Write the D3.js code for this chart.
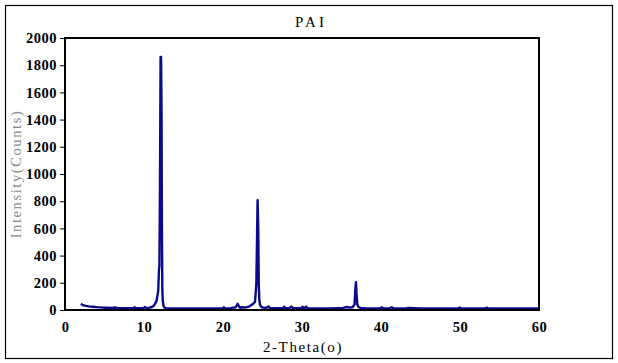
<!DOCTYPE html>
<html>
<head>
<meta charset="utf-8">
<script src="https://cdn.jsdelivr.net/npm/d3@7"></script>
<style>
body { margin: 0; background: #fff; }
svg { display: block; }
</style>
</head>
<body>
<svg id="chart" width="618" height="363"></svg>
<script>
const title = "PAI";
const xLabel = "2-Theta(o)";
const yLabel = "Intensity(Counts)";
const xTicks = [0, 10, 20, 30, 40, 50, 60];
const yTicks = [0, 200, 400, 600, 800, 1000, 1200, 1400, 1600, 1800, 2000];

// 2-theta (degrees)
const twoTheta = [
  2.0, 2.2, 2.5, 3.0, 3.5, 4.0, 4.5, 5.0, 5.5, 6.0, 6.3, 6.6, 7.0, 7.5, 8.0, 8.7, 8.8, 9.0, 9.5, 10.0, 10.1, 10.3,
  10.6, 11.0, 11.2, 11.4, 11.6, 11.8, 11.9, 11.95, 12.02, 12.1, 12.16, 12.22, 12.27, 12.32, 12.37, 12.45, 12.55, 12.75, 13.0,
  14.0, 15.0, 16.0, 17.0, 18.0, 19.0, 20.0, 20.1, 20.3, 21.0, 21.6, 21.85, 22.0, 22.15, 22.3, 22.8, 23.3, 23.7, 24.05,
  24.22, 24.3, 24.38, 24.46, 24.53, 24.6, 24.7, 24.9, 25.2, 25.6, 25.75, 25.9, 26.5, 27.0, 27.6, 27.75, 27.9, 28.4, 28.65, 28.9,
  29.5, 29.95, 30.05, 30.3, 30.5, 30.7, 31.5, 32.5, 33.5, 34.5, 35.2, 35.7, 36.0, 36.4, 36.65, 36.75, 36.83, 36.9, 37.0,
  37.15, 37.4, 38.0, 39.0, 39.9, 40.05, 40.3, 41.1, 41.35, 41.6, 42.5, 43.2, 43.4, 45.0, 47.0, 49.0, 49.8, 49.95, 50.2,
  51.5, 53.2, 53.4, 53.6, 55.0, 57.0, 59.0, 60.0
];
// intensity (counts)
const counts = [
  45, 38, 32, 27, 24, 21, 19, 17, 16, 15, 18, 15, 14, 14, 13, 13, 20, 13, 14, 14, 22, 14,
  16, 22, 30, 45, 70, 140, 300, 320, 900, 1860, 1860, 1480, 600, 160, 70, 35, 20, 14, 12,
  12, 12, 12, 11, 11, 11, 11, 20, 11, 14, 20, 45, 30, 16, 20, 18, 25, 40, 60,
  190, 500, 808, 600, 180, 70, 35, 20, 16, 18, 28, 16, 14, 13, 14, 24, 13, 14, 25, 13,
  13, 14, 24, 13, 25, 13, 12, 12, 12, 14, 16, 22, 18, 20, 40, 150, 205, 120, 40,
  22, 16, 13, 12, 12, 20, 12, 13, 20, 12, 12, 12, 15, 11, 11, 11, 11, 18, 11,
  11, 11, 17, 11, 11, 11, 11, 11
];

const data = twoTheta.map((t, i) => ({ x: t, y: counts[i] }));

const svg = d3.select("#chart");
const plot = { left: 65, right: 539, top: 38, bottom: 310 };

// outer frame
svg.append("rect")
  .attr("x", 5.5).attr("y", 5.5)
  .attr("width", 607).attr("height", 353)
  .attr("fill", "#fff").attr("stroke", "#000").attr("stroke-width", 1.2);

const x = d3.scaleLinear().domain([0, 60]).range([plot.left, plot.right]);
const y = d3.scaleLinear().domain([0, 2000]).range([plot.bottom, plot.top]);

const fontFam = "'Liberation Serif', 'DejaVu Serif', serif";

// y axis
const yAxis = svg.append("g")
  .attr("transform", `translate(${plot.left},0)`)
  .call(d3.axisLeft(y).tickValues(yTicks).tickSize(5).tickPadding(3).tickFormat(d3.format("d")));
yAxis.select(".domain").remove();
yAxis.selectAll(".tick line").attr("stroke", "#000").attr("stroke-width", 1);
yAxis.selectAll(".tick text")
  .attr("font-family", fontFam).attr("font-size", 14.5).attr("font-weight", "bold")
  .attr("fill", "#000").attr("letter-spacing", 0.5);

// x axis
const xAxis = svg.append("g")
  .attr("transform", `translate(0,${plot.bottom})`)
  .call(d3.axisBottom(x).tickValues(xTicks).tickSize(0).tickPadding(12).tickFormat(d3.format("d")));
xAxis.select(".domain").remove();
xAxis.selectAll(".tick text")
  .attr("font-family", fontFam).attr("font-size", 14.5).attr("font-weight", "bold")
  .attr("fill", "#000").attr("letter-spacing", 0.5);

// line
const line = d3.line().x(d => x(d.x)).y(d => y(d.y));
svg.append("path")
  .datum(data)
  .attr("d", line)
  .attr("fill", "none")
  .attr("stroke", "#0a0a8a")
  .attr("stroke-width", 2.4)
  .attr("stroke-linejoin", "round");

// plot border
svg.append("rect")
  .attr("x", plot.left).attr("y", plot.top)
  .attr("width", plot.right - plot.left).attr("height", plot.bottom - plot.top)
  .attr("fill", "none").attr("stroke", "#000").attr("stroke-width", 2);

// title
svg.append("text")
  .attr("x", 311).attr("y", 27)
  .attr("text-anchor", "middle")
  .attr("font-family", fontFam).attr("font-size", 15)
  .attr("letter-spacing", 3)
  .text(title);

// x label
svg.append("text")
  .attr("x", 303).attr("y", 352)
  .attr("text-anchor", "middle")
  .attr("font-family", fontFam).attr("font-size", 15)
  .attr("letter-spacing", 1.6)
  .text(xLabel);

// y label
svg.append("text")
  .attr("transform", `translate(21,${(plot.top + plot.bottom) / 2}) rotate(-90)`)
  .attr("text-anchor", "middle")
  .attr("font-family", fontFam).attr("font-size", 14.5)
  .attr("fill", "#888")
  .attr("letter-spacing", 1.6)
  .text(yLabel);
</script>
</body>
</html>
